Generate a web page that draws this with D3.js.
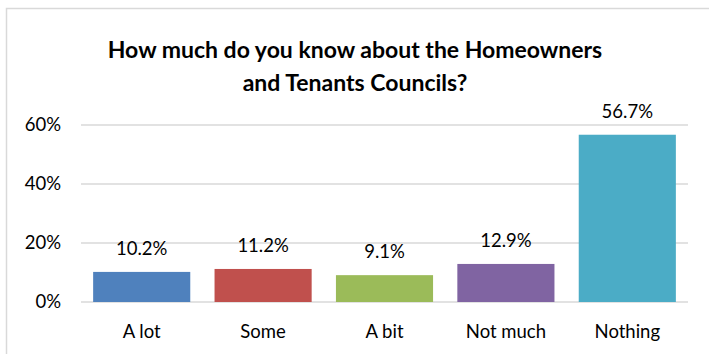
<!DOCTYPE html>
<html>
<head>
<meta charset="utf-8">
<script src="https://cdn.jsdelivr.net/npm/d3@7"></script>
<style>
  html, body { margin: 0; padding: 0; background: #fff; }
  svg { display: block; }
  text { font-family: Lato, "Open Sans", sans-serif; fill: #000; }
</style>
</head>
<body>
<div id="chart"></div>
<script>
const categories = ["A lot", "Some", "A bit", "Not much", "Nothing"];
const values = [10.2, 11.2, 9.1, 12.9, 56.7];
const colors = ["#4F81BD", "#C0504D", "#9BBB59", "#8064A2", "#4BACC6"];
const yTicks = [0, 20, 40, 60];
const titleLines = ["How much do you know about the Homeowners", "and Tenants Councils?"];

const width = 709, height = 354;
const margin = { top: 125, right: 21, bottom: 52, left: 81 };
const labelSize = 18.5;

const svg = d3.select("#chart").append("svg")
  .attr("width", width).attr("height", height);

// chart frame
svg.append("rect")
  .attr("x", 6.5).attr("y", 8.5)
  .attr("width", width + 10).attr("height", height + 10)
  .attr("fill", "none").attr("stroke", "#d9d9d9").attr("stroke-width", 1.5);

const x = d3.scaleBand()
  .domain(categories)
  .range([margin.left, width - margin.right])
  .paddingInner(0.2).paddingOuter(0.1);

const y = d3.scaleLinear()
  .domain([0, 60])
  .range([height - margin.bottom, margin.top]);

// gridlines
svg.append("g")
  .selectAll("line").data(yTicks).join("line")
  .attr("x1", margin.left).attr("x2", width - margin.right)
  .attr("y1", d => y(d)).attr("y2", d => y(d))
  .attr("stroke", "#d9d9d9").attr("stroke-width", 1.5);

// y axis labels
const yAxis = d3.axisLeft(y).tickValues(yTicks).tickFormat(d => d + "%").tickSize(0).tickPadding(20);
const gy = svg.append("g").attr("transform", `translate(${margin.left},0)`).call(yAxis);
gy.select(".domain").remove();
gy.selectAll("text").attr("font-size", labelSize).attr("font-family", "Lato, sans-serif").attr("fill", "#000");

// bars
svg.append("g")
  .selectAll("rect").data(values).join("rect")
  .attr("x", (d, i) => x(categories[i]))
  .attr("y", d => y(d))
  .attr("width", x.bandwidth())
  .attr("height", d => y(0) - y(d))
  .attr("fill", (d, i) => colors[i]);

// value labels
svg.append("g")
  .selectAll("text").data(values).join("text")
  .attr("x", (d, i) => x(categories[i]) + x.bandwidth() / 2)
  .attr("y", d => y(d) - 17)
  .attr("text-anchor", "middle")
  .attr("font-size", labelSize)
  .text(d => d.toFixed(1) + "%");

// x axis labels
const xAxis = d3.axisBottom(x).tickSize(0).tickPadding(23);
const gx = svg.append("g").attr("transform", `translate(0,${y(0)})`).call(xAxis);
gx.select(".domain").remove();
gx.selectAll("text").attr("font-size", labelSize).attr("font-family", "Lato, sans-serif").attr("fill", "#000");

// title
svg.append("g")
  .selectAll("text").data(titleLines).join("text")
  .attr("x", 355)
  .attr("y", (d, i) => 58 + i * 33)
  .attr("text-anchor", "middle")
  .attr("font-size", 23)
  .attr("font-weight", "bold")
  .text(d => d);
</script>
</body>
</html>
